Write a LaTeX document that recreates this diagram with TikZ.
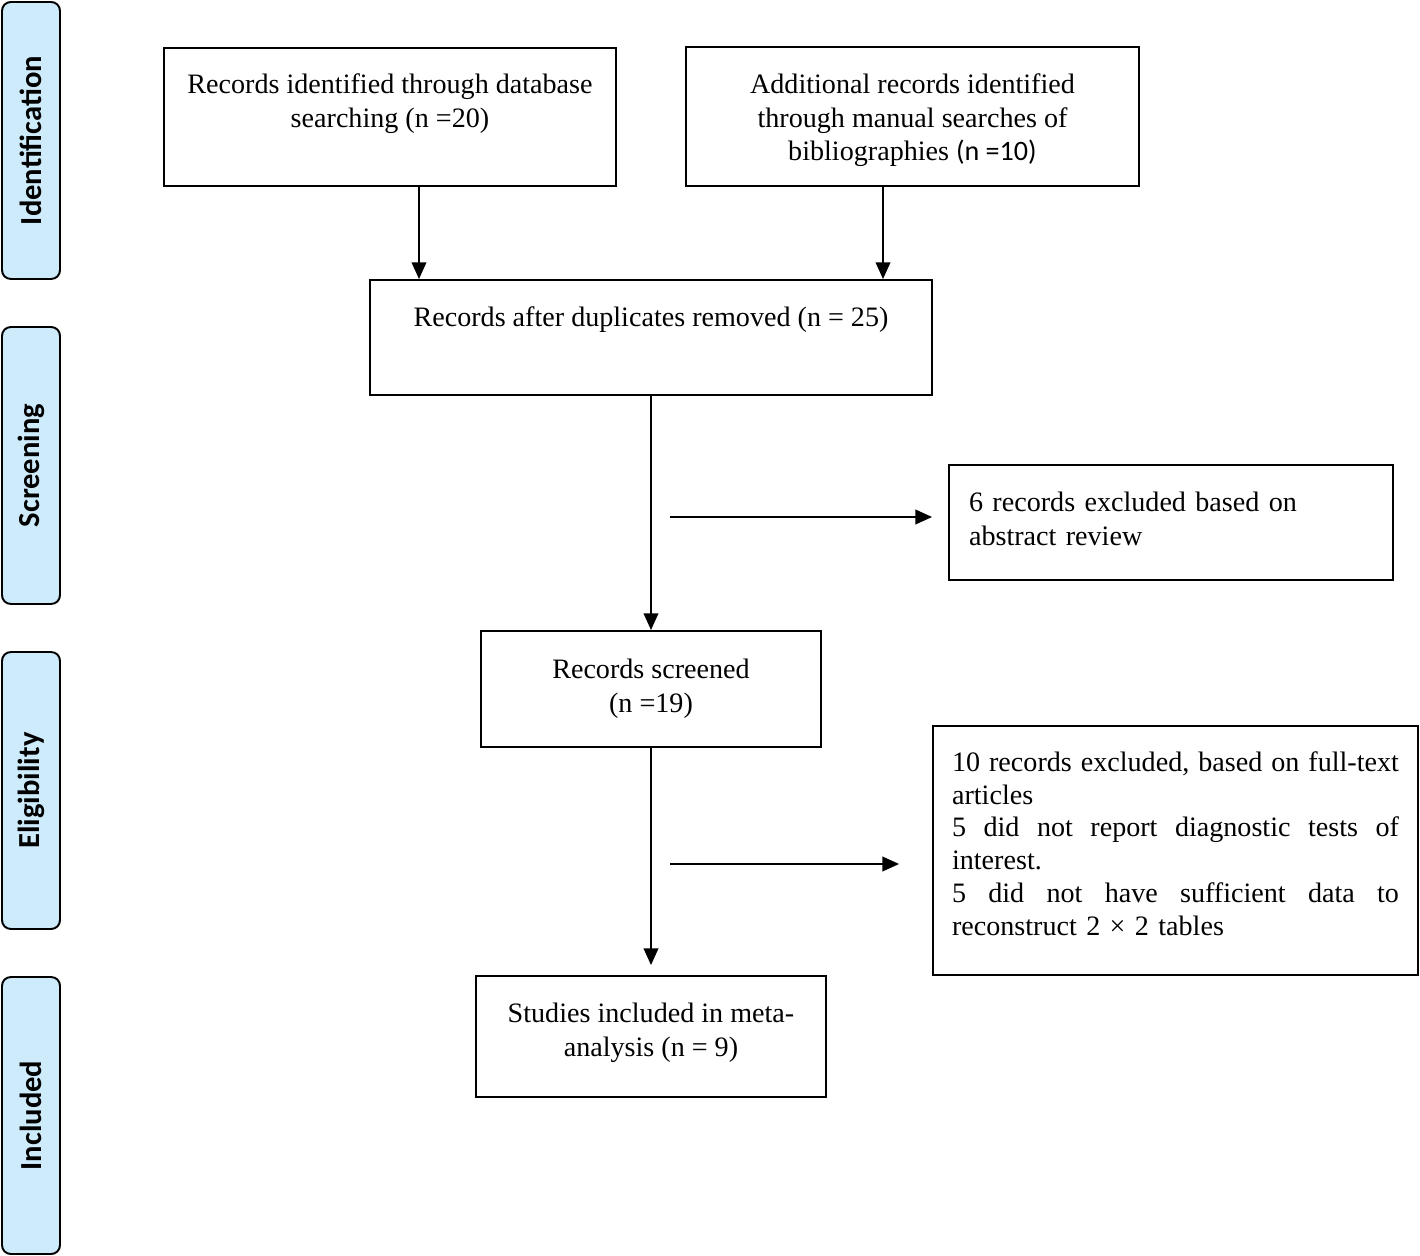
\documentclass[tikz,border=0pt]{standalone}
\usepackage{fontspec}
\setmainfont{Liberation Serif}
\newfontfamily\calibri{Carlito}
\usetikzlibrary{arrows.meta}
\definecolor{fasecol}{RGB}{206,235,251}
\newcommand{\riga}[1]{\leavevmode\hbox to 8.94cm{\frenchspacing\spaceskip=0.25em plus 1fil\relax #1}}

\begin{document}
\begin{tikzpicture}[x=0.02cm, y=-0.02cm,
    box/.style={draw, line width=1.1pt, inner sep=0pt},
    testo/.style={font=\fontsize{16}{19.3}\selectfont, align=center},
    fase/.style={draw, line width=1.1pt, fill=fasecol, rounded corners=5pt, rotate=90,
        minimum width=5.54cm, minimum height=1.16cm, inner sep=0pt,
        font=\calibri\bfseries\fontsize{17.4}{20}\selectfont},
    freccia/.style={line width=1.1pt, -{Triangle[length=9.5pt,width=8.3pt]}}]
        \useasboundingbox (0,0) rectangle (1420,1256);

        % Fasi a sinistra
        \node[fase] (ident) at (31,140.5) {Identification};
        \node[fase] (screen) at (31,465.5) {Screening};
        \node[fase] (elig) at (31,790.5) {Eligibility};
        \node[fase] (incl) at (31,1115.5) {Included};

        % Riquadri
        \node[box, minimum width=9.04cm, minimum height=2.76cm] (db) at (390,117) {};
        \node[testo, anchor=north] (dbtxt) at ([yshift=-0.41cm]db.north) {Records identified through database\\searching (n =20)};
        \node[box, testo, minimum width=9.06cm, minimum height=2.78cm] (man) at (912.5,116.5) {\rule{0pt}{15.5pt}Additional records identified\\through manual searches of\\bibliographies {\calibri (n =10)}};
        \node[box, minimum width=11.24cm, minimum height=2.3cm] (dup) at (651,337.5) {};
        \node[testo, anchor=north] (duptxt) at ([yshift=-0.43cm]dup.north) {Records after duplicates removed (n = 25)};
        \node[box, testo, align=left, text width=8.08cm, minimum width=8.88cm, minimum height=2.3cm] (abs) at (1171,522.5) {6 records excluded based on\\abstract review\rule[-4.5pt]{0pt}{0pt}};
        \node[box, testo, minimum width=6.8cm, minimum height=2.32cm] (scr) at (651,689) {Records screened\\(n =19)};
        \node[box, testo, font=\fontsize{16}{18.7}\selectfont, align=left, text width=8.94cm, minimum width=9.7cm, minimum height=4.98cm] (full) at (1175.5,850.5) {\riga{10 records excluded, based on full-text}\\articles\\\riga{5 did not report diagnostic tests of}\\interest.\\\riga{5 did not have sufficient data to}\\reconstruct 2 × 2 tables\rule[-8pt]{0pt}{0pt}};
        \node[box, testo, minimum width=7cm, minimum height=2.42cm] (meta) at (651,1036.5) {Studies included in meta-\\analysis (n = 9)\rule[-8pt]{0pt}{0pt}};

        % Frecce
        \coordinate (a1) at ([xshift=0.58cm]db.south);
        \coordinate (a2) at ([xshift=-0.59cm]man.south);
        \draw[freccia] (a1) -- (a1 |- dup.north);
        \draw[freccia] (a2) -- (a2 |- dup.north);
        \draw[freccia] (dup.south) -- (scr.north);
        \draw[freccia, shorten >=0.2cm] (scr.south) -- (meta.north);

        % Esclusioni
        \coordinate (e1) at (670,517);
        \coordinate (e2) at (670,864);
        \draw[freccia, shorten >=0.32cm] (e1) -- (e1 -| abs.west);
        \draw[freccia, shorten >=0.66cm] (e2) -- (e2 -| full.west);
    \end{tikzpicture}
\end{document}
